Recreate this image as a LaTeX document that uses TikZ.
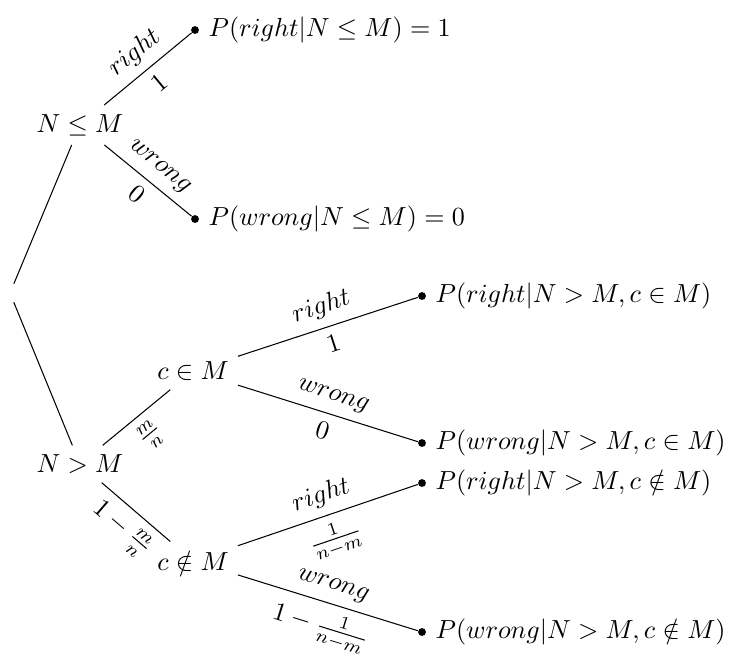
\documentclass[tikz,border=0pt]{standalone}
\begin{document}
\begin{tikzpicture}[x=0.383pt,y=-0.383pt,
  state/.style={inner sep=3.33pt},
  leaf/.style={circle,fill=black,inner sep=0pt,minimum size=3pt,label distance=0.6pt},
  up/.style={above,sloped},
  down/.style={below,sloped}]
\useasboundingbox (0,0) rectangle (730,657);
\node[state] (root) at (10,293) {};
\node[state] (nle) at (80,125) {$N\leq M$};
\node[state] (ngt) at (80,464) {$N>M$};
\node[state] (cin) at (193,371) {$c\in M$};
\node[state] (cnot) at (193,561) {$c\notin M$};
\node[leaf,label=right:{$P(right|N\leq M)=1$}] (l1) at (195,30) {};
\node[leaf,label=right:{$P(wrong|N\leq M)=0$}] (l2) at (195,219) {};
\node[leaf,label=right:{$P(right|N>M,c\in M)$}] (l3) at (422,296) {};
\node[leaf,label=right:{$P(wrong|N>M,c\in M)$}] (l4) at (422,443) {};
\node[leaf,label=right:{$P(right|N>M,c\notin M)$}] (l5) at (422,483) {};
\node[leaf,label=right:{$P(wrong|N>M,c\notin M)$}] (l6) at (422,632) {};
\draw (root) -- (nle);
\draw (root) -- (ngt);
\draw (nle) -- node[up]{$right$} node[down]{$1$} (l1);
\draw (nle) -- node[up]{$wrong$} node[down]{$0$} (l2);
\draw (ngt) -- node[down]{$\frac{m}{n}$} (cin);
\draw (ngt) -- node[down]{$1-\frac{m}{n}$} (cnot);
\draw (cin) -- node[up]{$right$} node[down]{$1$} (l3);
\draw (cin) -- node[up]{$wrong$} node[down]{$0$} (l4);
\draw (cnot) -- node[up]{$right$} node[down]{$\frac{1}{n-m}$} (l5);
\draw (cnot) -- node[up]{$wrong$} node[down]{$1-\frac{1}{n-m}$} (l6);
\end{tikzpicture}
\end{document}
